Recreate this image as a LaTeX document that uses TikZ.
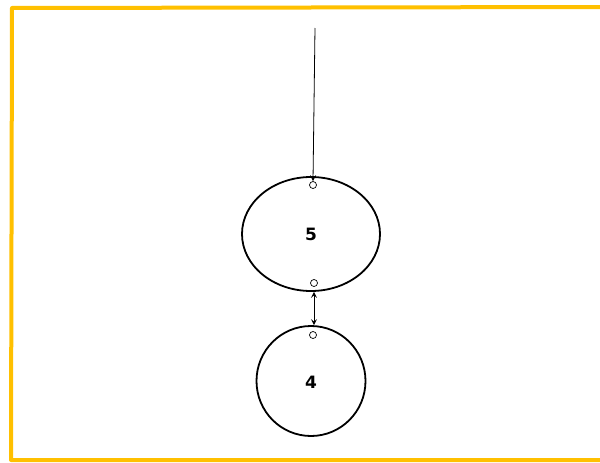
\documentclass[tikz,border=0pt]{standalone}
\usepackage{fontspec}
\setmainfont{DejaVu Sans}
\usepackage{tikz}
\usetikzlibrary{shapes.geometric,arrows.meta}
\definecolor{frameyellow}{RGB}{255,192,0}

\begin{document}
\begin{tikzpicture}[x=1pt,y=-1pt,
        blob/.style={ellipse, draw, line width=1.8pt, inner sep=0pt},
        numtext/.style={font=\bfseries\fontsize{17}{19}\selectfont},
        port/.style={circle, draw, line width=0.7pt, minimum size=7pt, inner sep=0pt},
        sk/.tip={Stealth[length=6pt,width=6pt,inset=2.5pt]},
        link/.style={line width=0.8pt}]
        \useasboundingbox (0,0) rectangle (600,463);

        % Frame
        \draw[frameyellow, line width=4pt, line join=round] (610,7) -- (12,8) -- (11,460) -- (610,460);

        % Nodes
        \node[blob, minimum width=138pt, minimum height=114pt] (n5) at (311,234) {};
        \node[numtext] (l5) at (311,234) {5};
        \node[blob, minimum width=109pt, minimum height=110pt] (n4) at (311,381) {};
        \node[numtext] (l4) at (311,382) {4};

        % Ports
        \node[port] (p5top) at (313,185) {};
        \node[port] (p5bot) at (314,283) {};
        \node[port] (p4top) at (313,335) {};

        % Connectors
        \coordinate (start) at (315,28);
        \draw[link, -sk] (start) -- (p5top.north);
        \draw[link, sk-sk] ([xshift=3pt]n5.south) -- ([xshift=3pt]n4.north);
\end{tikzpicture}
\end{document}
